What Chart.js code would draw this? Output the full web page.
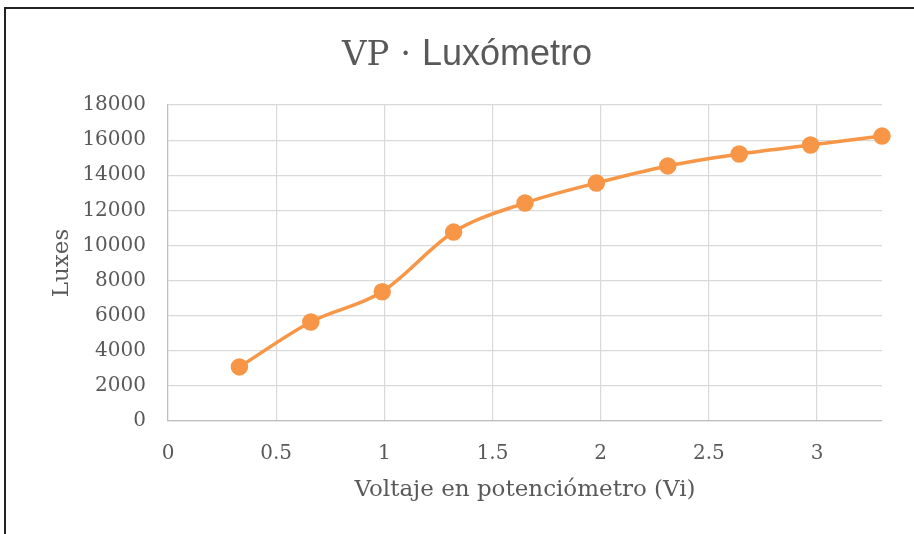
<!DOCTYPE html>
<html>
<head>
<meta charset="utf-8">
<script src="https://cdn.jsdelivr.net/npm/chart.js@4"></script>
<style>
    html, body { margin: 0; padding: 0; background: #fff; overflow: hidden; }
    #wrap { position: relative; width: 914px; height: 534px; }
    #frame { position: absolute; left: 4px; top: 7px; width: 1000px; height: 600px; border: 2px solid #222; box-sizing: border-box; pointer-events: none; }
    canvas { position: absolute; left: 0; top: 0; }
</style>
</head>
<body>
<div id="wrap">
    <canvas id="chart" width="914" height="534"></canvas>
    <div id="frame"></div>
</div>
<script>
// 数据
const voltaje = [0.33, 0.66, 0.99, 1.32, 1.65, 1.98, 2.31, 2.64, 2.97, 3.3];
const luxes = [3080, 5640, 7360, 10760, 12420, 13560, 14530, 15210, 15720, 16230];
const titlePartA = 'VP · ';
const titlePartB = 'Luxómetro';

const grey = '#595959';

// 标题插件：两种字体混排
const mixedTitle = {
    id: 'mixedTitle',
    afterDraw(chart) {
        const ctx = chart.ctx;
        ctx.save();
        ctx.fillStyle = grey;
        ctx.textBaseline = 'alphabetic';
        ctx.textAlign = 'left';
        const fontA = '34px "DejaVu Serif"';
        const fontB = '36px "Liberation Sans"';
        ctx.font = fontA;
        const wA = ctx.measureText(titlePartA).width;
        ctx.font = fontB;
        const wB = ctx.measureText(titlePartB).width;
        const x = 467 - (wA + wB) / 2;
        ctx.font = fontA;
        ctx.fillText(titlePartA, x, 65);
        ctx.font = fontB;
        ctx.fillText(titlePartB, x + wA, 65);
        ctx.restore();
    }
};

const ctx = document.getElementById('chart').getContext('2d');
new Chart(ctx, {
    type: 'scatter',
    data: {
        datasets: [{
            data: voltaje.map((v, i) => ({ x: v, y: luxes[i] })),
            showLine: true,
            borderColor: '#f79646',
            backgroundColor: '#f79646',
            borderWidth: 3.5,
            pointRadius: 7,
            pointHoverRadius: 7,
            tension: 0.4,
            cubicInterpolationMode: 'monotone',
            clip: false
        }]
    },
    options: {
        responsive: false,
        animation: false,
        layout: { padding: { left: 44, right: 32, top: 105, bottom: 26 } },
        plugins: {
            legend: { display: false },
            tooltip: { enabled: false }
        },
        scales: {
            x: {
                type: 'linear',
                min: 0,
                max: 3.3,
                afterFit(scale) { scale.height = 87; },
                ticks: {
                    stepSize: 0.5,
                    includeBounds: false,
                    color: grey,
                    padding: 21,
                    font: { family: 'DejaVu Serif', size: 20 },
                    callback: v => String(v)
                },
                grid: { color: '#d9d9d9', lineWidth: 1.2, drawTicks: false },
                border: { color: '#bfbfbf', width: 1.2 },
                title: {
                    display: true,
                    text: 'Voltaje en potenciómetro (Vi)',
                    color: grey,
                    font: { family: 'DejaVu Serif', size: 23 }
                }
            },
            y: {
                min: 0,
                max: 18000,
                afterFit(scale) { scale.width = 124; },
                ticks: {
                    stepSize: 2000,
                    color: grey,
                    padding: 22,
                    font: { family: 'DejaVu Serif', size: 20 },
                    callback: v => String(v)
                },
                grid: { color: '#d9d9d9', lineWidth: 1.2, drawTicks: false },
                border: { color: '#bfbfbf', width: 1.2 },
                title: {
                    display: true,
                    text: 'Luxes',
                    color: grey,
                    font: { family: 'DejaVu Serif', size: 23 }
                }
            }
        }
    },
    plugins: [mixedTitle]
});
</script>
</body>
</html>
